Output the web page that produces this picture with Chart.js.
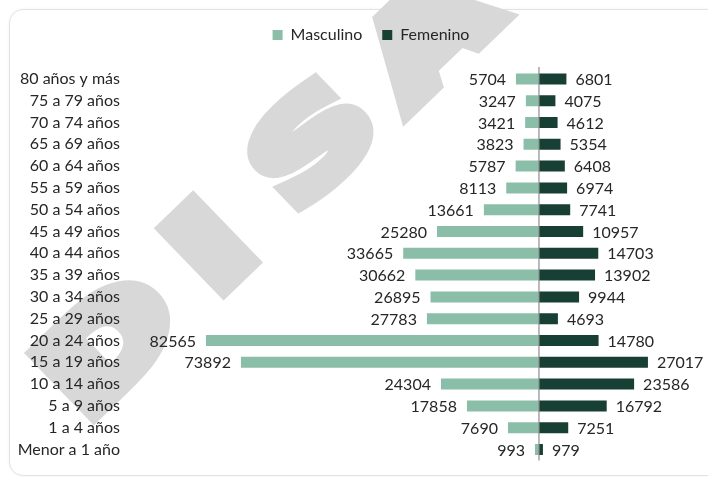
<!DOCTYPE html>
<html>
<head>
<meta charset="utf-8">
<script src="https://cdn.jsdelivr.net/npm/chart.js@4.4.0/dist/chart.umd.min.js"></script>
<style>
html, body { margin: 0; padding: 0; background: #fff; overflow: hidden; width: 708px; height: 477px; }
#caja { position: absolute; left: 9px; top: 9px; width: 760px; height: 465px; border: 1px solid #e2e2e2; border-radius: 14px; box-shadow: 0 0 3px rgba(0,0,0,.06); }
.marca { position: absolute; font: bold 116px "DejaVu Sans"; color: #d8d8d8; line-height: 1; white-space: nowrap;
         -webkit-text-stroke: 16px #d8d8d8;
         transform: translate(-50%, -50%) rotate(-44deg) scaleX(1.45); }
#grafico { position: absolute; left: 10px; top: 5px; }
</style>
</head>
<body>
<div id="caja"></div>
<span class="marca" style="left:108px;top:345px">D</span>
<span class="marca" style="left:210px;top:247px">I</span>
<span class="marca" style="left:312px;top:143px">S</span>
<span class="marca" style="left:428px;top:36px">A</span>
<canvas id="grafico" width="722" height="473"></canvas>
<script>
const edades = ['80 años y más', '75 a 79 años', '70 a 74 años', '65 a 69 años', '60 a 64 años', '55 a 59 años',
    '50 a 54 años', '45 a 49 años', '40 a 44 años', '35 a 39 años', '30 a 34 años', '25 a 29 años',
    '20 a 24 años', '15 a 19 años', '10 a 14 años', '5 a 9 años', '1 a 4 años', 'Menor a 1 año'];
const masculino = [5704, 3247, 3421, 3823, 5787, 8113, 13661, 25280, 33665, 30662, 26895, 27783, 82565, 73892, 24304, 17858, 7690, 993];
const femenino = [6801, 4075, 4612, 5354, 6408, 6974, 7741, 10957, 14703, 13902, 9944, 4693, 14780, 27017, 23586, 16792, 7251, 979];

const colorTexto = '#262626';

// mas aire entre la leyenda y las barras
const margenLeyenda = {
    id: 'margenLeyenda',
    beforeInit(chart) {
        const fit = chart.legend.fit;
        chart.legend.fit = function () {
            fit.bind(chart.legend)();
            this.height += 15;
        };
    }
};

// linea central en el cero
const lineaCentral = {
    id: 'lineaCentral',
    afterDatasetsDraw(chart) {
        const ctx = chart.ctx;
        const x = chart.scales.x.getPixelForValue(0);
        ctx.save();
        ctx.strokeStyle = '#8c8c8c';
        ctx.lineWidth = 1.2;
        ctx.beginPath();
        ctx.moveTo(x, chart.chartArea.top - 1);
        ctx.lineTo(x, chart.chartArea.bottom);
        ctx.stroke();
        ctx.restore();
    }
};

// valores al lado de cada barra
const etiquetas = {
    id: 'etiquetas',
    afterDatasetsDraw(chart) {
        const ctx = chart.ctx;
        ctx.save();
        ctx.font = '16px Lato';
        ctx.fillStyle = colorTexto;
        ctx.textBaseline = 'middle';
        chart.data.datasets.forEach((ds, i) => {
            chart.getDatasetMeta(i).data.forEach((barra, j) => {
                const valor = ds.data[j];
                if (valor < 0) {
                    ctx.textAlign = 'right';
                    ctx.fillText(String(-valor), barra.x - 10, barra.y + 1);
                } else {
                    ctx.textAlign = 'left';
                    ctx.fillText(String(valor), barra.x + 9, barra.y + 1);
                }
            });
        });
        ctx.restore();
    }
};

const grafico = document.getElementById('grafico').getContext('2d');
new Chart(grafico, {
    type: 'bar',
    data: {
        labels: edades,
        datasets: [{
            label: 'Masculino',
            data: masculino.map(v => -v),
            backgroundColor: '#8bbea8'
        }, {
            label: 'Femenino',
            data: femenino,
            backgroundColor: '#173f34'
        }]
    },
    options: {
        indexAxis: 'y',
        responsive: false,
        animation: false,
        barPercentage: 0.55,
        categoryPercentage: 0.92,
        layout: { padding: { top: 2, right: 0, bottom: 10, left: 0 } },
        scales: {
            x: { stacked: true, min: -101900, max: 47860, display: false },
            y: {
                stacked: true,
                grid: { display: false, drawTicks: false },
                border: { display: false },
                ticks: { color: colorTexto, font: { family: 'Lato', size: 16 }, padding: 8, autoSkip: false },
                afterFit(escala) { escala.width = 118; }
            }
        },
        plugins: {
            legend: {
                position: 'top',
                labels: { boxWidth: 10, boxHeight: 10, padding: 20, color: colorTexto, font: { family: 'Lato', size: 16 } }
            },
            tooltip: { enabled: false }
        }
    },
    plugins: [margenLeyenda, lineaCentral, etiquetas]
});
</script>
</body>
</html>
